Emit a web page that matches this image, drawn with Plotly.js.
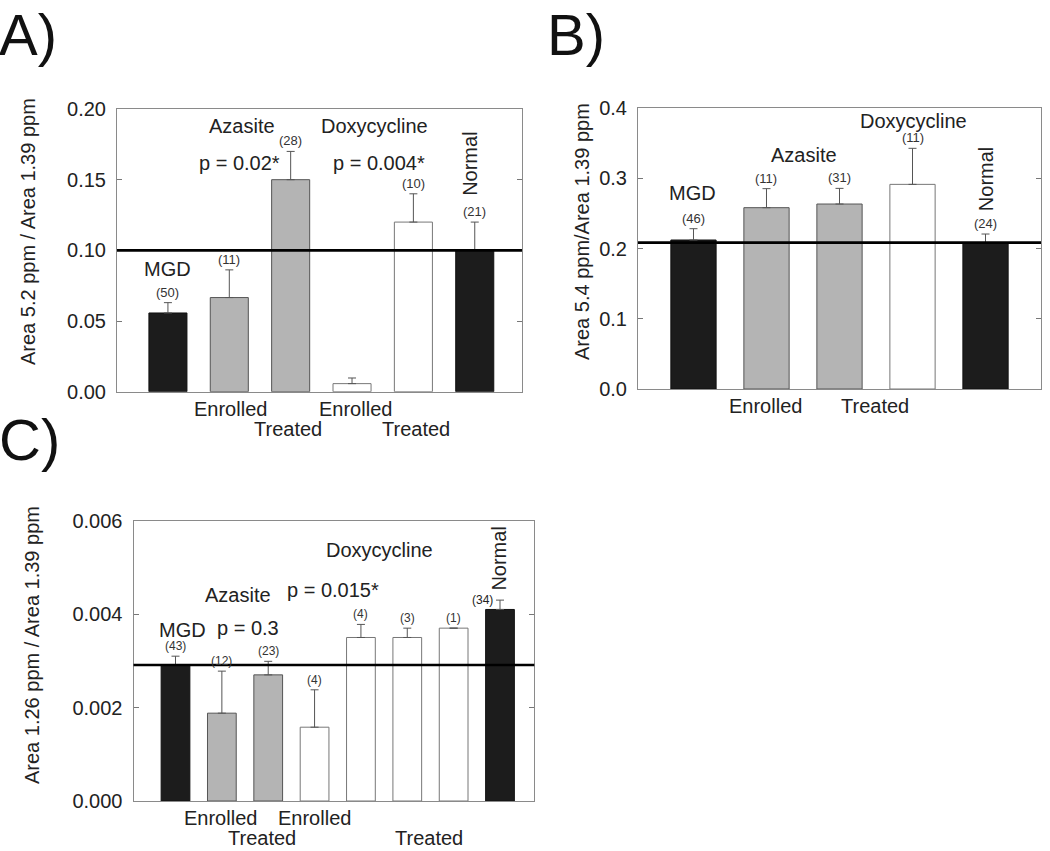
<!DOCTYPE html>
<html>
<head>
<meta charset="utf-8">
<script src="https://cdn.plot.ly/plotly-3.0.1.min.js"></script>
<style>
html,body{margin:0;padding:0;background:#fff;}
#chart{width:1050px;height:851px;}
</style>
</head>
<body>
<div id="chart"></div>
<script>
// ---------- Panel A ----------
var catsA  = ['MGD', 'Azasite Enrolled', 'Azasite Treated', 'Doxycycline Enrolled', 'Doxycycline Treated', 'Normal'];
var groupA = ['MGD', 'Azasite', 'Azasite', 'Doxycycline', 'Doxycycline', 'Normal'];
var meanA  = [0.0557, 0.0666, 0.150, 0.0057, 0.120, 0.100];
var upperA = [0.063, 0.0862, 0.170, 0.0097, 0.140, 0.120];
var nA     = ['(50)', '(11)', '(28)', '', '(10)', '(21)'];
var refA   = 0.100;

// ---------- Panel B ----------
var catsB  = ['MGD', 'Azasite Enrolled', 'Azasite Treated', 'Doxycycline Treated', 'Normal'];
var groupB = ['MGD', 'Azasite', 'Azasite', 'Doxycycline', 'Normal'];
var meanB  = [0.2121, 0.2581, 0.2633, 0.2913, 0.2078];
var upperB = [0.2282, 0.2852, 0.2856, 0.3426, 0.2206];
var nB     = ['(46)', '(11)', '(31)', '(11)', '(24)'];
var refB   = 0.2083;

// ---------- Panel C ----------
var catsC  = ['MGD', 'Azasite Enrolled', 'Azasite Treated', 'Doxycycline Enrolled', 'Doxycycline Treated 1', 'Doxycycline Treated 2', 'Doxycycline Treated 3', 'Normal'];
var groupC = ['MGD', 'Azasite', 'Azasite', 'Doxycycline', 'Doxycycline', 'Doxycycline', 'Doxycycline', 'Normal'];
var meanC  = [0.00291, 0.00188, 0.0027, 0.00158, 0.0035, 0.0035, 0.0037, 0.0041];
var upperC = [0.0031, 0.00278, 0.00299, 0.00238, 0.00378, 0.0037, 0.0037, 0.0043];
var nC     = ['(43)', '(12)', '(23)', '(4)', '(4)', '(3)', '(1)', '(34)'];
var refC   = 0.00291;

var FONT = '"Liberation Sans", Arial, Helvetica, sans-serif';
var fill = {MGD: '#1c1c1c', Normal: '#1c1c1c', Azasite: '#b4b4b4', Doxycycline: '#ffffff'};
var edge = {MGD: '#111111', Normal: '#111111', Azasite: '#555555', Doxycycline: '#777777'};

function barTrace(cats, groups, mean, upper, xa, ya) {
  var idx = cats.map(function (c, i) { return i; });
  return {
    type: 'bar', x: idx, y: mean, text: cats, hoverinfo: 'text+y', textposition: 'none',
    xaxis: xa, yaxis: ya, width: 0.62,
    marker: {color: groups.map(function (g) { return fill[g]; }),
             line: {color: groups.map(function (g) { return edge[g]; }), width: 1}},
    error_y: {type: 'data', symmetric: false,
              array: upper.map(function (u, i) { return u - mean[i]; }),
              arrayminus: mean.map(function () { return 0; }),
              color: '#555', thickness: 1, width: 4},
    showlegend: false
  };
}

var data = [
  barTrace(catsA, groupA, meanA, upperA, 'x', 'y'),
  barTrace(catsB, groupB, meanB, upperB, 'x2', 'y2'),
  barTrace(catsC, groupC, meanC, upperC, 'x3', 'y3')
];

var ann = [];
function txt(t, x, y, xr, yr, size, extra) {
  var a = {text: t, x: x, y: y, xref: xr, yref: yr, showarrow: false,
           font: {family: FONT, size: size, color: '#222'}, xanchor: 'center', yanchor: 'middle'};
  for (var k in extra) a[k] = extra[k];
  ann.push(a);
}
function counts(labels, upper, xr, yr, size, leftIdx) {
  labels.forEach(function (t, i) {
    if (!t) return;
    if (i === leftIdx) {
      txt(t, i, upper[i], xr, yr, size, {xanchor: 'right', xshift: -5});
    } else {
      txt(t, i, upper[i], xr, yr, size, {yanchor: 'bottom', yshift: 1, font: {family: FONT, size: size, color: '#333'}});
    }
  });
}
counts(nA, upperA, 'x', 'y', 13, -1);
counts(nB, upperB, 'x2', 'y2', 13, -1);
counts(nC, upperC, 'x3', 'y3', 12, 7);

// Panel A text
txt('MGD', 0, 0.0869, 'x', 'y', 20);
txt('Azasite', 1.21, 0.188, 'x', 'y', 20);
txt('Doxycycline', 3.36, 0.188, 'x', 'y', 20);
txt('p = 0.02*', 1.17, 0.162, 'x', 'y', 20);
txt('p = 0.004*', 3.44, 0.162, 'x', 'y', 20);
txt('Normal', 4.93, 0.1615, 'x', 'y', 20, {textangle: -90});
txt('Enrolled', 1.02, 0, 'x', 'y domain', 20, {yshift: -17});
txt('Treated', 1.96, 0, 'x', 'y domain', 20, {yshift: -37});
txt('Enrolled', 3.05, 0, 'x', 'y domain', 20, {yshift: -17});
txt('Treated', 4.04, 0, 'x', 'y domain', 20, {yshift: -37});

// Panel B text
txt('MGD', -0.02, 0.279, 'x2', 'y2', 20);
txt('Azasite', 1.52, 0.3336, 'x2', 'y2', 20);
txt('Doxycycline', 3.02, 0.382, 'x2', 'y2', 20);
txt('Normal', 4.0, 0.298, 'x2', 'y2', 20, {textangle: -90});
txt('Enrolled', 0.99, 0, 'x2', 'y2 domain', 20, {yshift: -17});
txt('Treated', 2.49, 0, 'x2', 'y2 domain', 20, {yshift: -17});

// Panel C text
txt('MGD', 0.16, 0.00367, 'x3', 'y3', 20);
txt('p = 0.3', 1.56, 0.00371, 'x3', 'y3', 20);
txt('Azasite', 1.34, 0.00442, 'x3', 'y3', 20);
txt('p = 0.015*', 3.40, 0.00452, 'x3', 'y3', 20);
txt('Doxycycline', 4.40, 0.00537, 'x3', 'y3', 20);
txt('Normal', 6.97, 0.00518, 'x3', 'y3', 20, {textangle: -90});
txt('Enrolled', 0.98, 0, 'x3', 'y3 domain', 20, {yshift: -17});
txt('Treated', 1.87, 0, 'x3', 'y3 domain', 20, {yshift: -37});
txt('Enrolled', 2.99, 0, 'x3', 'y3 domain', 20, {yshift: -17});
txt('Treated', 5.47, 0, 'x3', 'y3 domain', 20, {yshift: -37});

// Axis titles (rotated)
txt('Area 5.2 ppm / Area 1.39 ppm', 28 / 1050, 1 - 232 / 851, 'paper', 'paper', 20, {textangle: -90});
txt('Area 5.4 ppm/Area 1.39 ppm', 582 / 1050, 1 - 232 / 851, 'paper', 'paper', 20, {textangle: -90});
txt('Area 1.26 ppm / Area 1.39 ppm', 32 / 1050, 1 - 645 / 851, 'paper', 'paper', 20, {textangle: -90});

// Panel letters
var letterFont = {family: FONT, size: 58, color: '#111'};
txt('A)', 0, 1, 'paper', 'paper', 58, {xanchor: 'left', yanchor: 'top', xshift: -3, font: letterFont});
txt('B)', 545 / 1050, 1, 'paper', 'paper', 58, {xanchor: 'left', yanchor: 'top', font: letterFont});
txt('C)', 0, 1 - 439 / 851, 'paper', 'paper', 58, {xanchor: 'left', xshift: -3, font: letterFont});

function refLine(v, xr, yr) {
  return {type: 'line', xref: xr + ' domain', yref: yr, x0: 0, x1: 1, y0: v, y1: v,
          line: {color: '#000', width: 2.6}, layer: 'above'};
}

function yax(domain, range, dtick, fmt, anchor) {
  return {domain: domain, range: range, dtick: dtick, tick0: 0, tickformat: fmt, anchor: anchor,
          ticks: 'inside', ticklen: 5, tickcolor: '#777', showline: true, linecolor: '#8a8a8a',
          linewidth: 1, mirror: 'ticks', showgrid: false, zeroline: false, ticklabelstandoff: 6,
          tickfont: {family: FONT, size: 20, color: '#222'}, fixedrange: true};
}
function xax(domain, range, anchor) {
  return {domain: domain, range: range, anchor: anchor, showline: true, linecolor: '#8a8a8a',
          linewidth: 1, mirror: true, ticks: '', showticklabels: false, showgrid: false,
          zeroline: false, fixedrange: true};
}

var layout = {
  width: 1050, height: 851,
  margin: {l: 0, r: 0, t: 0, b: 0},
  paper_bgcolor: '#fff', plot_bgcolor: '#fff',
  font: {family: FONT, color: '#222'},
  showlegend: false, bargap: 0,
  xaxis:  xax([117 / 1050, 522 / 1050], [-0.83, 5.77], 'y'),
  yaxis:  yax([1 - 391.7 / 851, 1 - 109 / 851], [0, 0.2], 0.05, '.2f', 'x'),
  xaxis2: xax([638 / 1050, 1041 / 1050], [-0.76, 4.76], 'y2'),
  yaxis2: yax([1 - 389 / 851, 1 - 108 / 851], [0, 0.4], 0.1, '.1f', 'x2'),
  xaxis3: xax([133.5 / 1050, 534.3 / 1050], [-0.906, 7.74], 'y3'),
  yaxis3: yax([1 - 801 / 851, 1 - 520.7 / 851], [0, 0.006], 0.002, '.3f', 'x3'),
  shapes: [refLine(refA, 'x', 'y'), refLine(refB, 'x2', 'y2'), refLine(refC, 'x3', 'y3')],
  annotations: ann
};

Plotly.newPlot('chart', data, layout, {displayModeBar: false, staticPlot: true});
</script>
</body>
</html>
